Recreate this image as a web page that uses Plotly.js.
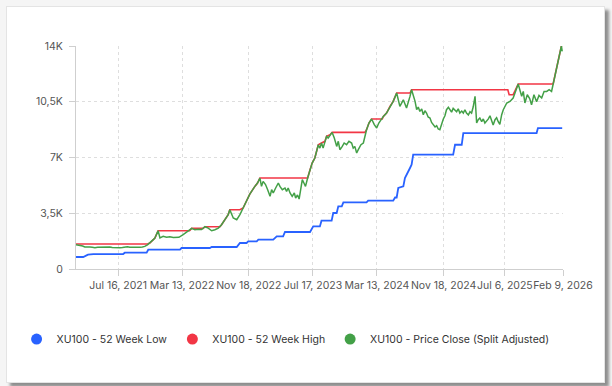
<!DOCTYPE html>
<html>
<head>
<meta charset="utf-8">
<script src="https://cdn.plot.ly/plotly-3.0.1.min.js"></script>
<style>
html,body{margin:0;padding:0;width:612px;height:386px;overflow:hidden;background:#f5f5f5;}
#card{position:absolute;left:6px;top:6px;width:597px;height:375px;background:#fff;border:1px solid #e4e4e4;box-shadow:4px 4px 3px rgba(0,0,0,0.42);}
#chart{position:absolute;left:0;top:0;width:612px;height:386px;}
</style>
</head>
<body>
<div id="card"></div>
<div id="chart"></div>
<script>
// Price Close (Split Adjusted)
const closeDates = ["2021-02-08","2021-02-17","2021-02-23","2021-03-05","2021-03-13","2021-03-25","2021-04-01","2021-04-10","2021-04-20","2021-04-30","2021-05-09","2021-05-18","2021-05-27","2021-06-06","2021-06-15","2021-06-24","2021-07-04","2021-07-13","2021-07-23","2021-08-01","2021-08-10","2021-08-20","2021-08-29","2021-09-08","2021-09-17","2021-09-27","2021-10-06","2021-10-15","2021-10-24","2021-11-03","2021-11-12","2021-11-25","2021-12-01","2021-12-13","2021-12-20",
"2022-01-01","2022-01-14","2022-01-26","2022-02-08","2022-02-20","2022-03-01","2022-03-17","2022-04-05","2022-04-18","2022-04-30","2022-05-12","2022-05-25","2022-06-07","2022-06-19","2022-07-02","2022-07-14","2022-07-27","2022-08-08","2022-08-21","2022-09-02","2022-09-08","2022-09-21","2022-10-04","2022-10-16","2022-10-28","2022-11-10","2022-11-22","2022-12-11","2022-12-21","2022-12-30",
"2023-01-05","2023-01-11","2023-01-20","2023-01-28","2023-02-06","2023-02-12","2023-02-18","2023-02-27","2023-03-09","2023-03-15","2023-03-24","2023-04-03","2023-04-09","2023-04-15","2023-04-22","2023-04-30","2023-05-08","2023-05-13","2023-05-20","2023-05-26","2023-06-02","2023-06-07","2023-06-13","2023-06-19","2023-06-27","2023-07-06","2023-07-14","2023-07-24","2023-07-31","2023-08-06","2023-08-12","2023-08-18","2023-08-24","2023-08-31","2023-09-06","2023-09-12","2023-09-19","2023-09-27","2023-10-05","2023-10-14","2023-10-20","2023-10-26","2023-11-04","2023-11-11","2023-11-20","2023-11-29","2023-12-09","2023-12-15","2023-12-21","2023-12-28",
"2024-01-03","2024-01-13","2024-01-22","2024-01-28","2024-02-03","2024-02-12","2024-02-22","2024-03-03","2024-03-12","2024-03-20","2024-04-06","2024-04-18","2024-05-01","2024-05-13","2024-05-26","2024-06-07","2024-06-20","2024-07-02","2024-07-15","2024-07-21","2024-08-03","2024-08-09","2024-08-15","2024-08-21","2024-08-28","2024-09-03","2024-09-09","2024-09-15","2024-09-21","2024-09-28","2024-10-04","2024-10-10","2024-10-17","2024-10-23","2024-10-29","2024-11-04","2024-11-11","2024-11-17","2024-11-23","2024-11-29","2024-12-06","2024-12-12","2024-12-18","2024-12-24","2024-12-31",
"2025-01-06","2025-01-12","2025-01-18","2025-01-25","2025-01-31","2025-02-06","2025-02-12","2025-02-19","2025-02-25","2025-03-03","2025-03-09","2025-03-16","2025-03-19","2025-03-22","2025-03-28","2025-04-03","2025-04-10","2025-04-16","2025-04-22","2025-04-29","2025-05-05","2025-05-11","2025-05-17","2025-05-23","2025-05-30","2025-06-05","2025-06-11","2025-06-17","2025-06-24","2025-06-30","2025-07-13","2025-07-25","2025-08-06","2025-08-19","2025-08-25","2025-09-07","2025-09-13","2025-09-19","2025-09-28","2025-10-07","2025-10-14","2025-10-23","2025-11-02","2025-11-11","2025-11-21","2025-11-30","2025-12-10","2025-12-19","2025-12-28",
"2026-01-03","2026-01-09","2026-01-16","2026-01-22","2026-01-29","2026-02-03","2026-02-06"];
const closeValues = [1525,1500,1482,1440,1381,1400,1381,1360,1337,1370,1381,1350,1400,1370,1381,1350,1337,1360,1337,1350,1381,1390,1360,1350,1337,1370,1360,1380,1420,1520,1632,1840,1946,2404,1946,
2050,1990,2020,1980,2010,1990,2153,2360,2550,2467,2500,2480,2655,2570,2400,2467,2570,2780,3095,3410,3723,3200,3095,3410,3830,4245,4700,5186,5400,5712,
5186,5500,5300,4980,4560,4980,4770,5085,5400,5186,4980,5085,4875,5085,4770,4560,4770,4457,4650,4394,4980,5606,5400,5186,5712,6234,6650,6968,7386,7803,7590,7910,7590,8015,8327,8223,8431,8576,8223,7697,8015,7490,7697,7910,7803,8015,7910,7590,7697,7280,
7490,7803,7910,8327,8745,9165,9415,9060,8850,9165,9580,9790,10210,10522,11050,10210,10620,10107,10835,11255,10522,10000,10170,9895,10040,9687,9935,9790,9540,9480,9200,9060,8915,9000,8790,8745,9165,9420,9620,10000,10150,9960,9850,10085,9960,
9875,10060,9790,9915,9790,10000,9790,9665,9875,9790,10170,10835,9790,9165,9373,9480,9250,9420,9165,9290,9420,9620,9290,9040,9373,9500,9250,9080,9687,10000,10420,10520,10735,11255,11614,10840,11150,10420,10940,10700,10315,10940,10500,10900,10735,11150,11150,11255,11150,
11600,12090,12510,12930,13560,14000,13660];

// 52 Week High
const highDates = ["2021-02-08","2021-11-04","2021-11-12","2021-11-25","2021-12-01","2021-12-13","2022-04-10","2022-04-18","2022-05-31","2022-06-07","2022-08-02","2022-08-08","2022-08-21","2022-09-02","2022-09-08","2022-10-16","2022-10-28","2022-11-10","2022-11-22","2022-12-11","2022-12-21","2022-12-30","2023-06-27","2023-07-06","2023-07-14","2023-07-24","2023-07-31","2023-08-06","2023-08-18","2023-08-31","2023-09-06","2023-09-19","2023-09-27","2024-01-28","2024-02-03","2024-02-12","2024-02-22","2024-04-02","2024-04-06","2024-04-18","2024-05-01","2024-05-13","2024-05-26","2024-07-15","2024-07-21","2025-07-17","2025-07-22","2025-08-06","2025-08-12","2025-08-25","2026-01-03","2026-01-09","2026-01-16","2026-01-22","2026-01-29","2026-02-03","2026-02-06"];
const highValues = [1570,1570,1632,1840,1946,2404,2404,2550,2550,2655,2655,2780,3095,3410,3723,3723,3830,4245,4700,5186,5400,5712,5712,6234,6650,6968,7386,7803,7910,8015,8327,8431,8576,8576,8745,9165,9415,9415,9580,9790,10210,10522,11050,11050,11255,11255,10942,10942,11150,11614,11614,12090,12510,12930,13560,14000,14000];

// 52 Week Low
const lowDates = ["2021-02-08","2021-03-07","2021-03-25","2021-04-14","2021-08-04","2021-08-10","2021-10-31","2021-11-06","2022-03-05","2022-03-11","2022-06-25","2022-07-02","2022-10-04","2022-10-16","2022-11-10","2022-11-16","2022-12-18","2022-12-24","2023-02-18","2023-03-03","2023-03-27","2023-04-03","2023-07-06","2023-07-18","2023-08-12","2023-08-18","2023-09-25","2023-10-01","2023-10-14","2023-10-20","2023-11-02","2023-11-08","2024-02-03","2024-02-09","2024-05-13","2024-05-20","2024-05-26","2024-06-01","2024-06-20","2024-06-26","2024-07-15","2024-07-21","2024-07-27","2024-12-24","2024-12-31","2025-01-25","2025-01-31","2025-11-02","2025-11-07","2026-02-06"];
const lowValues = [753,753,898,940,940,1023,1023,1211,1211,1318,1318,1381,1381,1632,1632,1733,1733,1840,1840,2047,2047,2322,2322,2675,2675,3032,3032,3516,3516,3930,3930,4181,4181,4288,4288,4490,4490,5085,5186,5712,6340,6548,7175,7175,7800,7800,8535,8535,8850,8850];

const xTickVals = ["2021-07-16","2022-03-13","2022-11-18","2023-07-17","2024-03-13","2024-11-18","2025-07-06","2026-02-09"];
const xTickText = ["Jul 16, 2021","Mar 13, 2022","Nov 18, 2022","Jul 17, 2023","Mar 13, 2024","Nov 18, 2024","Jul 6, 2025","Feb 9, 2026"];
const yTickVals = [0,3500,7000,10500,14000];
const yTickText = ["0","3,5K","7K","10,5K","14K"];

const seriesNames = ["XU100 - 52 Week Low","XU100 - 52 Week High","XU100 - Price Close (Split Adjusted)"];
const colors = ["#2962FF","#F23645","#43A047"];

const traces = [
  {x: lowDates, y: lowValues, mode: "lines", line: {color: colors[0], width: 1.8}, showlegend: false, hoverinfo: "skip"},
  {x: highDates, y: highValues, mode: "lines", line: {color: colors[1], width: 1.6}, showlegend: false, hoverinfo: "skip"},
  {x: closeDates, y: closeValues, mode: "lines", line: {color: colors[2], width: 1.5}, showlegend: false, hoverinfo: "skip"}
];
seriesNames.forEach((n, i) => {
  traces.push({x: [null], y: [null], mode: "markers", name: n, marker: {color: colors[i], size: 11, symbol: "circle"}, showlegend: true});
});

const axisCommon = {
  showline: true, linecolor: "#cfcfcf", linewidth: 1,
  ticks: "outside", ticklen: 6, tickcolor: "#cfcfcf",
  showgrid: true, gridcolor: "#dedede", griddash: "dot", gridwidth: 1,
  zeroline: false,
  tickfont: {family: "Inter, 'Noto Sans', sans-serif", size: 10.5, color: "#555"}
};

const layout = {
  width: 612, height: 386,
  margin: {l: 76, r: 49, t: 46, b: 117},
  paper_bgcolor: "rgba(0,0,0,0)", plot_bgcolor: "rgba(0,0,0,0)",
  font: {family: "Inter, 'Noto Sans', sans-serif", color: "#333"},
  xaxis: Object.assign({}, axisCommon, {type: "date", range: ["2021-02-08","2026-02-09"], tickmode: "array", tickvals: xTickVals, ticktext: xTickText, tickangle: 0}),
  yaxis: Object.assign({}, axisCommon, {range: [0,14000], tickmode: "array", tickvals: yTickVals, ticktext: yTickText, ticklabelstandoff: 4}),
  showlegend: true,
  legend: {orientation: "h", x: -0.122, xanchor: "left", y: -0.314, yanchor: "middle", font: {family: "Inter, 'Noto Sans', sans-serif", size: 10.5, color: "#333"}, bgcolor: "rgba(0,0,0,0)"},
  hovermode: false
};

Plotly.newPlot("chart", traces, layout, {staticPlot: true, displayModeBar: false});
</script>
</body>
</html>
